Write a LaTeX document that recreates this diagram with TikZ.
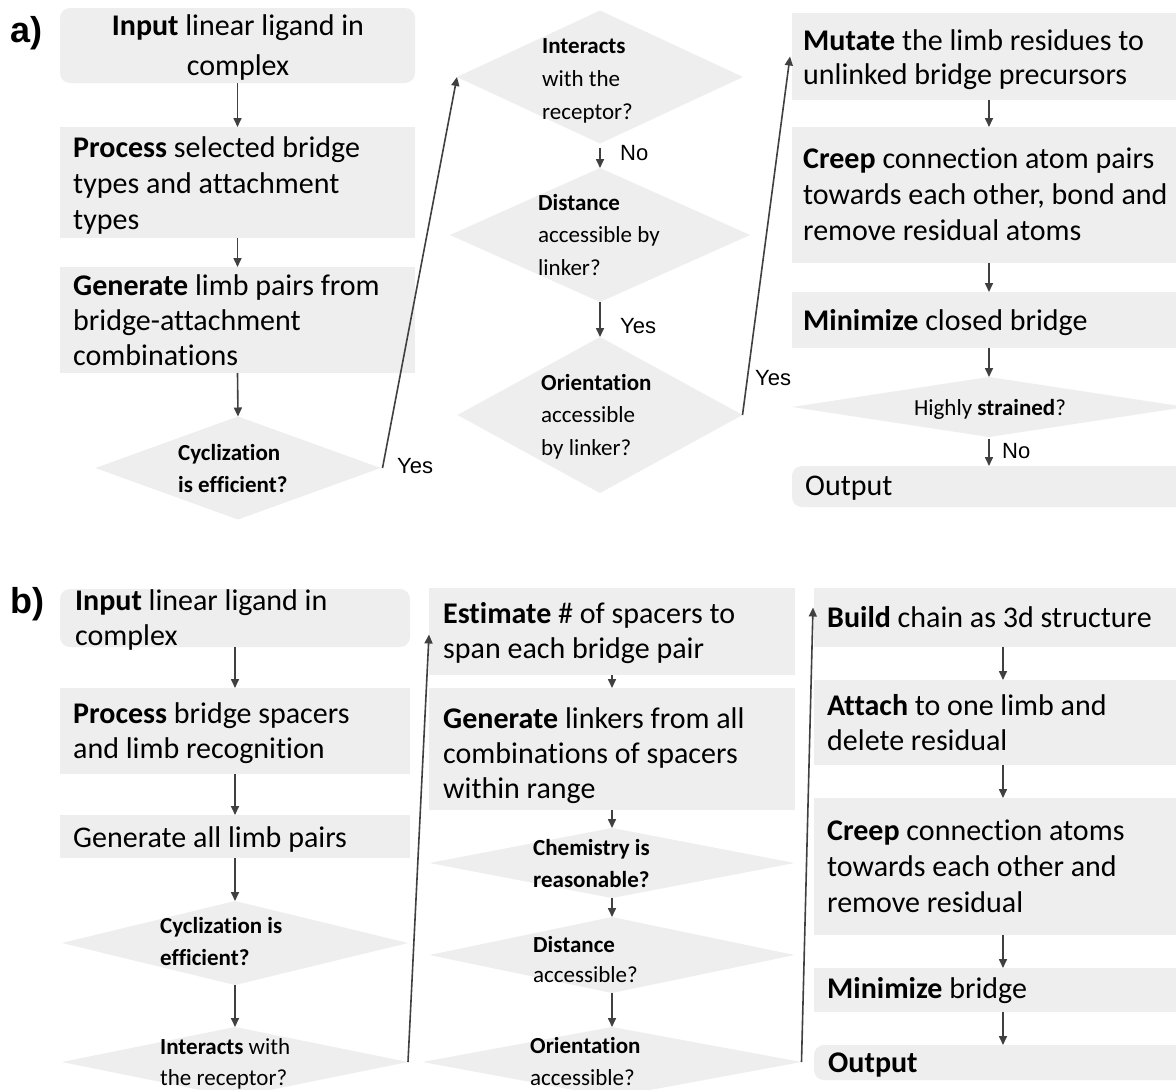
\documentclass[tikz,border=0pt]{standalone}
\usepackage{fontspec}
\setmainfont{Carlito}[Ligatures=NoCommon]
\newfontfamily\arialf{Liberation Sans}
\usetikzlibrary{arrows.meta,shapes.geometric}
\definecolor{boxgray}{RGB}{238,238,238}
\definecolor{arrgray}{RGB}{64,64,64}
\newcommand{\Tb}{\rule{0pt}{23pt}}
\newcommand{\Ts}{\rule{0pt}{18pt}}
\begin{document}
\begin{tikzpicture}[x=1pt,y=-1pt,
  box/.style={fill=boxgray, inner sep=0pt, outer sep=0pt, anchor=north west},
  rbox/.style={box, rounded corners=10pt},
  dia/.style={shape=diamond, fill=boxgray, inner sep=0pt, outer sep=0pt},
  big/.style={inner sep=0pt, anchor=north west, align=left, font=\fontsize{30}{36}\selectfont},
  sm/.style={inner sep=0pt, anchor=north west, align=left, font=\fontsize{23}{32}\selectfont},
  lbl/.style={inner sep=0pt, anchor=base west, font=\arialf\fontsize{22}{26}\selectfont},
  panel/.style={inner sep=0pt, anchor=base west, font=\arialf\bfseries\fontsize{36}{40}\selectfont},
  arw/.style={draw=arrgray, line width=1.6pt, -{Triangle[length=9pt,width=8pt]}},
]
\useasboundingbox (0,0) rectangle (1176,1090);
\clip (0,0) rectangle (1176,1090);
\fill[white] (0,0) rectangle (1176,1090);

% ---------------- panel a ----------------
\node[panel] (la) at (10,42) {a)};

\node[rbox, minimum width=355pt, minimum height=75pt] (a1) at (60,8) {};
\node[big, anchor=north, align=center, font=\fontsize{30}{40}\selectfont] (a1t) at (238,12) {\Tb\textbf{Input} linear ligand in\\complex};
\node[box, minimum width=355pt, minimum height=111pt] (a2) at (60,127) {};
\node[big] (a2t) at (73,134) {\Tb\textbf{Process} selected bridge\\types and attachment\\types};
\node[box, minimum width=355pt, minimum height=106pt] (a3) at (60,267) {};
\node[big, font=\fontsize{30}{35}\selectfont] (a3t) at (73,272) {\Tb\textbf{Generate} limb pairs from\\bridge-attachment\\combinations};
\node[dia, minimum width=285pt, minimum height=103pt] (a4) at (238,468) {};
\node[sm] (a4t) at (178,442) {\Ts\textbf{Cyclization}\\\textbf{is efficient?}};

\node[dia, minimum width=286pt, minimum height=133pt] (b1) at (600,77) {};
\node[sm, font=\fontsize{23}{33}\selectfont] (b1t) at (542,35) {\Ts\textbf{Interacts}\\with the\\receptor?};
\node[dia, minimum width=300pt, minimum height=134pt] (b2) at (600,235) {};
\node[sm, font=\fontsize{23}{32.5}\selectfont] (b2t) at (538,192) {\Ts\textbf{Distance}\\accessible by\\linker?};
\node[dia, minimum width=285pt, minimum height=156pt] (b3) at (600,415) {};
\node[sm, font=\fontsize{23}{32.5}\selectfont] (b3t) at (541,372) {\Ts\textbf{Orientation}\\accessible\\by linker?};

\node[box, minimum width=394pt, minimum height=87pt] (c1) at (792,13) {};
\node[big, font=\fontsize{30}{34}\selectfont] (c1t) at (803,27) {\Tb\textbf{Mutate} the limb residues to\\unlinked bridge precursors};
\node[box, minimum width=394pt, minimum height=136pt] (c2) at (792,127) {};
\node[big] (c2t) at (803,145) {\Tb\textbf{Creep} connection atom pairs\\towards each other, bond and\\remove residual atoms};
\node[box, minimum width=394pt, minimum height=56pt] (c3) at (792,292) {};
\node[big] (c3t) at (803,307) {\Tb\textbf{Minimize} closed bridge};
\node[dia, minimum width=394pt, minimum height=60pt] (c4) at (989,407) {};
\node[sm, anchor=north, align=center] (c4t) at (990,397) {\Ts Highly \textbf{strained}?};
\node[rbox, minimum width=394pt, minimum height=41pt] (c5) at (792,466) {};
\node[big] (c5t) at (805,472) {\Tb Output};

\draw[arw] (a1.south) -- (a2.north);
\draw[arw] (a2.south) -- (a3.north);
\draw[arw] (a3.south) -- (a4.north);
\draw[arw] ([xshift=2pt]a4.east) -- (b1.west);
\node[lbl] (ya1) at (397,473) {Yes};
\draw[arw, shorten <=4pt] (b1.south) -- (b2.north);
\node[lbl] (na1) at (620,160) {No};
\draw[arw] (b2.south) -- (b3.north);
\node[lbl] (ya2) at (620,333) {Yes};
\draw[arw] (b3.east) -- ([xshift=-2pt]c1.west);
\node[lbl] (ya3) at (755,385) {Yes};
\draw[arw] (c1.south) -- (c2.north);
\draw[arw] (c2.south) -- (c3.north);
\draw[arw] (c3.south) -- (c4.north);
\draw[arw, shorten <=2pt] (c4.south) -- (c5.north);
\node[lbl] (na2) at (1002,458) {No};

% ---------------- panel b ----------------
\node[panel] (lb) at (10,613) {b)};

\node[rbox, minimum width=350pt, minimum height=58pt] (d1) at (60,589) {};
\node[big, font=\fontsize{30}{35}\selectfont] (d1t) at (75,587) {\Tb\textbf{Input} linear ligand in\\complex};
\node[box, minimum width=350pt, minimum height=86pt] (d2) at (60,688) {};
\node[big, font=\fontsize{30}{35}\selectfont] (d2t) at (73,700) {\Tb\textbf{Process} bridge spacers\\and limb recognition};
\node[box, minimum width=350pt, minimum height=43pt] (d3) at (60,815) {};
\node[big] (d3t) at (73,824) {\Tb Generate all limb pairs};
\node[dia, minimum width=346pt, minimum height=84pt] (d4) at (235,943) {};
\node[sm] (d4t) at (160,915) {\Ts\textbf{Cyclization is}\\\textbf{efficient?}};
\node[dia, minimum width=346pt, minimum height=70pt] (d5) at (235,1062) {};
\node[sm, font=\fontsize{23}{31}\selectfont] (d5t) at (160,1036) {\Ts\textbf{Interacts} with\\the receptor?};

\node[box, minimum width=366pt, minimum height=87pt] (e1) at (429,588) {};
\node[big, font=\fontsize{30}{35}\selectfont] (e1t) at (443,600) {\Tb\textbf{Estimate} \# of spacers to\\span each bridge pair};
\node[box, minimum width=366pt, minimum height=122pt] (e2) at (429,688) {};
\node[big, font=\fontsize{30}{35}\selectfont] (e2t) at (443,705) {\Tb\textbf{Generate} linkers from all\\combinations of spacers\\within range};
\node[dia, minimum width=365pt, minimum height=70pt] (e3) at (612,863) {};
\node[sm] (e3t) at (533,837) {\Ts\textbf{Chemistry is}\\\textbf{reasonable?}};
\node[dia, minimum width=365pt, minimum height=76pt] (e4) at (612,955) {};
\node[sm, font=\fontsize{23}{30}\selectfont] (e4t) at (533,934) {\Ts\textbf{Distance}\\accessible?};
\node[dia, minimum width=379pt, minimum height=70pt] (e5) at (612,1062) {};
\node[sm] (e5t) at (530,1035) {\Ts\textbf{Orientation}\\accessible?};

\node[box, minimum width=378pt, minimum height=59pt] (f1) at (814,588) {};
\node[big] (f1t) at (827,604) {\Tb\textbf{Build} chain as 3d structure};
\node[box, minimum width=378pt, minimum height=85pt] (f2) at (814,680) {};
\node[big, font=\fontsize{30}{35}\selectfont] (f2t) at (827,692) {\Tb\textbf{Attach} to one limb and\\delete residual};
\node[box, minimum width=378pt, minimum height=137pt] (f3) at (814,798) {};
\node[big] (f3t) at (827,817) {\Tb\textbf{Creep} connection atoms\\towards each other and\\remove residual};
\node[box, minimum width=378pt, minimum height=44pt] (f4) at (814,968) {};
\node[big] (f4t) at (827,975) {\Tb\textbf{Minimize} bridge};
\node[rbox, minimum width=378pt, minimum height=35pt] (f5) at (814,1045) {};
\node[big] (f5t) at (828,1049) {\Tb\textbf{Output}};

\draw[arw] (d1.south) -- (d2.north);
\draw[arw] (d2.south) -- (d3.north);
\draw[arw] (d3.south) -- (d4.north);
\draw[arw] (d4.south) -- (d5.north);
\draw[arw] (d5.east) -- ([yshift=-3pt]e1.west);
\draw[arw] (e1.south) -- (e2.north);
\draw[arw] (e2.south) -- (e3.north);
\draw[arw] (e3.south) -- (e4.north);
\draw[arw] (e4.south) -- (e5.north);
\draw[arw] (e5.east) -- ([yshift=10pt,xshift=-1pt]f1.west);
\draw[arw] (f1.south) -- (f2.north);
\draw[arw] (f2.south) -- (f3.north);
\draw[arw] (f3.south) -- (f4.north);
\draw[arw] (f4.south) -- (f5.north);
\end{tikzpicture}
\end{document}
